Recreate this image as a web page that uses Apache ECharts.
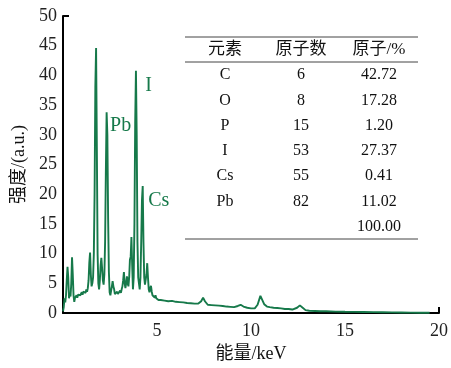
<!DOCTYPE html>
<html>
<head>
<meta charset="utf-8">
<script src="https://cdn.jsdelivr.net/npm/echarts@6/dist/echarts.min.js"></script>
<style>
  html, body { margin: 0; padding: 0; background: #fff; }
  #chart { width: 451px; height: 368px; }
</style>
</head>
<body>
<div id="chart"></div>
<script>
// EDS 能谱数据 (keV, a.u.)
const energyKeV = [
  0.00, 0.04, 0.08, 0.12, 0.16, 0.20, 0.24, 0.28, 0.32, 0.36, 0.40, 0.44, 0.48, 0.52, 0.56, 0.60,
  0.64, 0.68, 0.72, 0.76, 0.80, 0.84, 0.88, 0.92, 0.96, 1.00, 1.04, 1.08, 1.12, 1.16, 1.20, 1.24,
  1.28, 1.32, 1.36, 1.40, 1.44, 1.48, 1.52, 1.56, 1.60, 1.64, 1.68, 1.72, 1.76, 1.80, 1.84, 1.88,
  1.92, 1.96, 2.00, 2.04, 2.08, 2.12, 2.16, 2.20, 2.24, 2.28, 2.32, 2.36, 2.40, 2.44, 2.48, 2.52,
  2.56, 2.60, 2.64, 2.68, 2.72, 2.76, 2.80, 2.84, 2.88, 2.92, 2.96, 3.00, 3.04, 3.08, 3.12, 3.16,
  3.20, 3.24, 3.28, 3.32, 3.36, 3.40, 3.44, 3.48, 3.52, 3.56, 3.60, 3.64, 3.68, 3.72, 3.76, 3.80,
  3.84, 3.88, 3.92, 3.96, 4.00, 4.04, 4.08, 4.12, 4.16, 4.20, 4.24, 4.28, 4.32, 4.36, 4.40, 4.44,
  4.48, 4.52, 4.56, 4.60, 4.64, 4.68, 4.72, 4.76, 4.80, 4.84, 4.88, 4.92, 4.96, 5.00, 5.04, 5.08,
  5.12, 5.2, 5.4, 5.6, 5.8, 6.0, 6.2, 6.4, 6.6, 6.8, 7.0, 7.2, 7.35, 7.45, 7.55, 7.7,
  7.9, 8.1, 8.3, 8.5, 8.7, 8.9, 9.1, 9.3, 9.45, 9.6, 9.8, 10.0, 10.2, 10.35, 10.5, 10.6,
  10.7, 10.85, 11.0, 11.2, 11.4, 11.6, 11.8, 12.0, 12.2, 12.45, 12.6, 12.75, 12.9, 13.1, 13.4, 13.7,
  14.0, 14.5, 15.0, 15.5, 16.0, 16.5, 17.0, 17.5, 18.0, 18.5, 19.0, 19.5
];
const intensity = [
  0.3, 1.0, 2.5, 1.8, 3.0, 5.5, 7.8, 6.0, 2.5, 3.4, 2.8, 5.0, 9.4, 6.5, 3.0, 1.9,
  2.6, 2.3, 3.0, 2.6, 3.1, 2.8, 3.3, 3.0, 3.2, 3.5, 3.1, 3.6, 3.3, 3.8, 3.4, 4.0,
  3.6, 4.2, 5.5, 8.5, 10.2, 6.5, 4.5, 5.0, 6.0, 10.0, 20.0, 38.0, 44.6, 28.0, 10.0, 5.0,
  4.0, 5.5, 8.0, 9.3, 7.5, 5.5, 4.8, 6.5, 12.0, 24.0, 33.8, 30.0, 16.0, 7.0, 3.5, 3.0,
  3.8, 4.5, 5.4, 4.5, 4.0, 3.2, 3.4, 3.0, 3.6, 3.2, 3.5, 3.3, 3.8, 3.4, 4.0, 4.5,
  5.5, 6.9, 5.0, 4.2, 5.0, 6.2, 5.0, 4.5, 6.0, 9.0, 9.5, 12.8, 8.0, 4.0, 6.0, 15.0,
  32.0, 40.8, 30.0, 12.0, 6.0, 5.0, 4.0, 6.0, 12.0, 19.0, 21.4, 12.0, 6.0, 4.8, 5.0, 6.5,
  8.4, 6.0, 4.0, 3.5, 4.2, 4.6, 3.6, 3.0, 3.3, 2.8, 2.6, 3.0, 2.5, 2.3, 2.5, 2.2,
  2.3, 2.2, 2.1, 2.0, 2.05, 1.9, 1.85, 1.8, 1.7, 1.65, 1.6, 1.6, 2.0, 2.6, 2.0, 1.4,
  1.35, 1.3, 1.25, 1.2, 1.1, 1.05, 1.0, 1.2, 1.4, 1.1, 0.9, 0.8, 0.8, 1.4, 2.9, 2.6,
  1.5, 1.1, 1.0, 0.9, 0.85, 0.8, 0.7, 0.7, 0.6, 0.9, 1.3, 0.9, 0.5, 0.4, 0.35, 0.3,
  0.3, 0.25, 0.22, 0.2, 0.18, 0.16, 0.14, 0.12, 0.1, 0.08, 0.06, 0.05
];

// 峰标注
const peakNames = ['Pb', 'I', 'Cs'];
const peakEnergy = [2.32, 3.92, 4.24];
const peakValue = [33.8, 40.8, 21.4];

// 元素组成表
const tableHeader = ['元素', '原子数', '原子/%'];
const elements = ['C', 'O', 'P', 'I', 'Cs', 'Pb'];
const atomicNumbers = ['6', '8', '15', '53', '55', '82'];
const atomicPercent = ['42.72', '17.28', '1.20', '27.37', '0.41', '11.02'];
const atomicTotal = '100.00';

const X_MAX = 20;
const Y_MAX = 50;

const GREEN = '#16794a';
const FONT = "'Liberation Serif', 'Noto Sans CJK SC', serif";

const chart = echarts.init(document.getElementById('chart'));

// 表格 graphic
const colX = [225, 301, 379];
const rowY0 = 75;
const rowStep = 25.3;
const tableGraphic = [];
[37, 62, 239].forEach((y) => {
  tableGraphic.push({
    type: 'line',
    shape: { x1: 185, y1: y, x2: 418, y2: y },
    style: { stroke: '#444', lineWidth: 1 },
    silent: true,
  });
});
tableHeader.forEach((t, i) => {
  tableGraphic.push({
    type: 'text',
    x: colX[i], y: 50,
    style: { text: t, font: '17px ' + FONT, fill: '#111', align: 'center', verticalAlign: 'middle' },
  });
});
elements.forEach((el, r) => {
  const row = [el, atomicNumbers[r], atomicPercent[r]];
  row.forEach((t, i) => {
    tableGraphic.push({
      type: 'text',
      x: colX[i], y: rowY0 + r * rowStep,
      style: { text: t, font: '16px ' + FONT, fill: '#111', align: 'center', verticalAlign: 'middle' },
    });
  });
});
tableGraphic.push({
  type: 'text',
  x: colX[2], y: rowY0 + elements.length * rowStep,
  style: { text: atomicTotal, font: '16px ' + FONT, fill: '#111', align: 'center', verticalAlign: 'middle' },
});

const labelOffsets = { Pb: [4, 14], I: [9, 16], Cs: [6, 15] };

const option = {
  animation: false,
  grid: { left: 63, right: 12, top: 16, bottom: 52 },
  xAxis: {
    type: 'value',
    min: 0,
    max: X_MAX,
    interval: 5,
    name: '能量/keV',
    nameLocation: 'middle',
    nameGap: 27,
    nameTextStyle: { fontFamily: FONT, fontSize: 18, color: '#111' },
    axisLine: { lineStyle: { color: '#000', width: 2 } },
    axisTick: { show: false },
    axisLabel: { showMinLabel: false, fontFamily: FONT, fontSize: 18, color: '#222', margin: 9 },
    splitLine: { show: false },
  },
  yAxis: {
    type: 'value',
    min: 0,
    max: Y_MAX,
    interval: 5,
    name: '强度/(a.u.)',
    nameLocation: 'middle',
    nameGap: 29,
    nameTextStyle: { fontFamily: FONT, fontSize: 18, color: '#111' },
    axisLine: { show: true, lineStyle: { color: '#000', width: 2 } },
    axisTick: { show: false },
    axisLabel: { fontFamily: FONT, fontSize: 18, color: '#222', margin: 6 },
    splitLine: { show: false },
  },
  series: [
    {
      type: 'line',
      data: energyKeV.map((e, i) => [e, intensity[i]]),
      symbol: 'none',
      lineStyle: { color: GREEN, width: 1.9 },
      itemStyle: { color: GREEN },
      markPoint: {
        symbol: 'circle',
        symbolSize: 1,
        itemStyle: { color: 'rgba(0,0,0,0)' },
        data: peakNames.map((n, i) => ({
          name: n,
          coord: [peakEnergy[i], peakValue[i]],
          label: {
            show: true,
            formatter: n,
            position: labelOffsets[n],
            align: 'left',
            verticalAlign: 'middle',
            color: GREEN,
            fontFamily: FONT,
            fontSize: 20,
          },
        })),
      },
    },
  ],
  graphic: tableGraphic,
};

chart.setOption(option);

// 坐标轴端点的内向刻度 (y=50 与 x=20)
const pTop = chart.convertToPixel({ gridIndex: 0 }, [0, Y_MAX]);
const pRight = chart.convertToPixel({ gridIndex: 0 }, [X_MAX, 0]);
chart.setOption({
  graphic: tableGraphic.concat([
    {
      type: 'line',
      shape: { x1: pTop[0], y1: pTop[1], x2: pTop[0] + 6, y2: pTop[1] },
      style: { stroke: '#000', lineWidth: 2 },
      silent: true,
    },
    {
      type: 'line',
      shape: { x1: pRight[0], y1: pRight[1], x2: pRight[0], y2: pRight[1] - 6 },
      style: { stroke: '#000', lineWidth: 2 },
      silent: true,
    },
  ]),
});
</script>
</body>
</html>
